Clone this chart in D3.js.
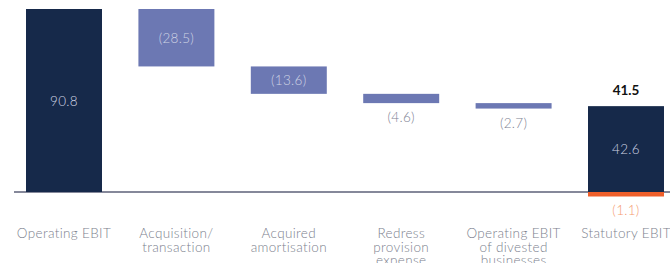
<!DOCTYPE html>
<html>
<head>
<meta charset="utf-8">
<script src="https://cdn.jsdelivr.net/npm/d3@7"></script>
<style>
  body { margin: 0; background: #fff; }
  svg text { font-family: "Lato", "Open Sans", sans-serif; }
</style>
</head>
<body>
<div id="chart"></div>
<script>
// EBIT bridge: operating -> statutory
const categories = [
  ['Operating EBIT'],
  ['Acquisition/', 'transaction'],
  ['Acquired', 'amortisation'],
  ['Redress', 'provision', 'expense'],
  ['Operating EBIT', 'of divested', 'businesses'],
  ['Statutory EBIT']
];
const startValue = 90.8;
const adjustments = [-28.5, -13.6, -4.6, -2.7];
const statutoryPos = 42.6;
const statutoryNeg = -1.1;
const statutoryTotal = 41.5;

const W = 670, H = 263;
const baseY = 192;

const svg = d3.select('#chart').append('svg')
  .attr('width', W).attr('height', H);

const x = d3.scaleBand()
  .domain(d3.range(categories.length))
  .range([7.8, 682.2])
  .paddingInner(0.324)
  .paddingOuter(0.162);

const y = d3.scaleLinear()
  .domain([0, startValue])
  .range([baseY, 9]);

// axis line (bars drawn on top)
svg.append('line')
  .attr('x1', 14).attr('x2', W)
  .attr('y1', y(0)).attr('y2', y(0))
  .attr('stroke', '#5d6178').attr('stroke-width', 1.5);

// build waterfall segments
const bars = [];
bars.push({ i: 0, y0: 0, y1: startValue, fill: '#16294a', label: '90.8', inside: true });
let run = startValue;
adjustments.forEach((v, k) => {
  const next = run + v;
  bars.push({ i: k + 1, y0: next, y1: run, fill: '#6c78b3',
    label: '(' + Math.abs(v).toFixed(1) + ')', inside: Math.abs(v) > 10 });
  run = next;
});
bars.push({ i: 5, y0: 0, y1: statutoryPos, fill: '#16294a', label: statutoryPos.toFixed(1), inside: true });
bars.push({ i: 5, y0: statutoryNeg, y1: 0, fill: '#ef5f2a', label: null });

svg.append('g').selectAll('rect')
  .data(bars)
  .join('rect')
  .attr('x', d => x(d.i))
  .attr('width', x.bandwidth())
  .attr('y', d => y(d.y1))
  .attr('height', d => Math.max(y(d.y0) - y(d.y1), d.label ? 0 : 4.5))
  .attr('fill', d => d.fill);

// value labels
svg.append('g').selectAll('text')
  .data(bars.filter(d => d.label))
  .join('text')
  .attr('x', d => x(d.i) + x.bandwidth() / 2)
  .attr('y', d => d.inside ? (y(d.y0) + y(d.y1)) / 2 + 5 : y(d.y0) + 19)
  .attr('text-anchor', 'middle')
  .attr('font-size', 13.5)
  .attr('font-weight', 300)
  .attr('letter-spacing', 0.3)
  .attr('fill', d => d.inside ? '#cfd4e4' : '#7d8193')
  .text(d => d.label);

// statutory negative + total
svg.append('text')
  .attr('x', x(5) + x.bandwidth() / 2)
  .attr('y', y(0) + 23)
  .attr('text-anchor', 'middle')
  .attr('font-size', 13.5).attr('font-weight', 300)
  .attr('letter-spacing', 0.3)
  .attr('fill', '#f59b70')
  .text('(' + Math.abs(statutoryNeg).toFixed(1) + ')');

svg.append('text')
  .attr('x', x(5) + x.bandwidth() / 2)
  .attr('y', y(statutoryPos) - 11)
  .attr('text-anchor', 'middle')
  .attr('font-size', 13.5).attr('font-weight', 700)
  .attr('fill', '#111')
  .text(statutoryTotal.toFixed(1));

// category labels
const cat = svg.append('g').selectAll('text')
  .data(categories)
  .join('text')
  .attr('x', (d, i) => x(i) + x.bandwidth() / 2)
  .attr('y', 238)
  .attr('text-anchor', 'middle')
  .attr('font-size', 13.5)
  .attr('font-weight', 300)
  .attr('letter-spacing', 0.35)
  .attr('fill', '#7c7f8e');

cat.selectAll('tspan')
  .data(d => d)
  .join('tspan')
  .attr('x', function () { return this.parentNode.getAttribute('x'); })
  .attr('dy', (d, j) => j === 0 ? 0 : 13.5)
  .text(d => d);
</script>
</body>
</html>
